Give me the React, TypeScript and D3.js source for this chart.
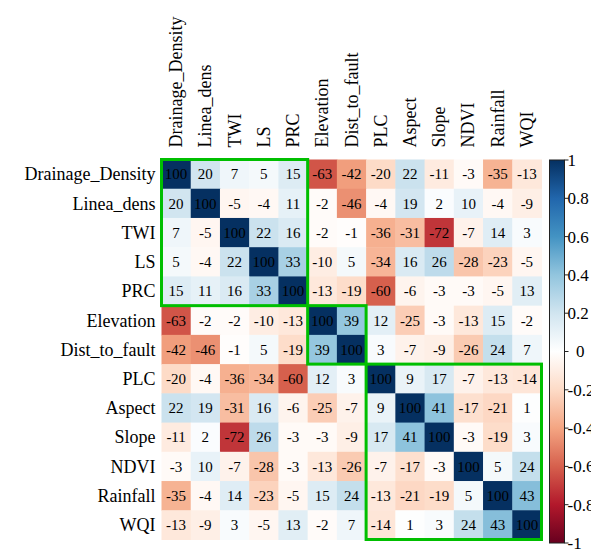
import * as React from 'react'
import * as d3 from 'd3'

const labels = ['Drainage_Density', 'Linea_dens', 'TWI', 'LS', 'PRC', 'Elevation', 'Dist_to_fault', 'PLC', 'Aspect', 'Slope', 'NDVI', 'Rainfall', 'WQI']

const rowDrainage = [100, 20, 7, 5, 15, -63, -42, -20, 22, -11, -3, -35, -13]
const rowLinea = [20, 100, -5, -4, 11, -2, -46, -4, 19, 2, 10, -4, -9]
const rowTWI = [7, -5, 100, 22, 16, -2, -1, -36, -31, -72, -7, 14, 3]
const rowLS = [5, -4, 22, 100, 33, -10, 5, -34, 16, 26, -28, -23, -5]
const rowPRC = [15, 11, 16, 33, 100, -13, -19, -60, -6, -3, -3, -5, 13]
const rowElevation = [-63, -2, -2, -10, -13, 100, 39, 12, -25, -3, -13, 15, -2]
const rowDist = [-42, -46, -1, 5, -19, 39, 100, 3, -7, -9, -26, 24, 7]
const rowPLC = [-20, -4, -36, -34, -60, 12, 3, 100, 9, 17, -7, -13, -14]
const rowAspect = [22, 19, -31, 16, -6, -25, -7, 9, 100, 41, -17, -21, 1]
const rowSlope = [-11, 2, -72, 26, -3, -3, -9, 17, 41, 100, -3, -19, 3]
const rowNDVI = [-3, 10, -7, -28, -3, -13, -26, -7, -17, -3, 100, 5, 24]
const rowRainfall = [-35, -4, 14, -23, -5, 15, 24, -13, -21, -19, 5, 100, 43]
const rowWQI = [-13, -9, 3, -5, 13, -2, 7, -14, 1, 3, 24, 43, 100]

const matrix = [rowDrainage, rowLinea, rowTWI, rowLS, rowPRC, rowElevation, rowDist, rowPLC, rowAspect, rowSlope, rowNDVI, rowRainfall, rowWQI]

// clusters as [first, last] index
const clusters = [[0, 4], [5, 6], [7, 12]]
const barTicks = [1, 0.8, 0.6, 0.4, 0.2, 0, -0.2, -0.4, -0.6, -0.8, -1]

const palette = ['#67001F', '#B2182B', '#D6604D', '#F4A582', '#FDDBC7', '#FFFFFF', '#D1E5F0', '#92C5DE', '#4393C3', '#2166AC', '#053061']

const App = () => {
  const width = 591
  const height = 549
  const left = 161.5
  const top = 159.5
  const size = 380

  const band = d3.scaleBand<number>().domain(d3.range(labels.length)).range([0, size])
  const bw = band.bandwidth()

  const color = d3.scaleLinear<string>()
    .domain(d3.range(11).map(i => -1 + i * 0.2))
    .range(palette)

  const barX = 549.5
  const barW = 15
  const barY = d3.scaleLinear().domain([1, -1]).range([160, 543])

  const txt = {fontFamily: "'Liberation Serif', 'DejaVu Serif', 'Times New Roman', serif"}

  return (
    <div style={{position: 'absolute', left: 0, top: 0}}>
      <svg width={width} height={height} style={{display: 'block', background: '#fff'}}>
        <defs>
          <linearGradient id="cbar" x1="0" y1="1" x2="0" y2="0">
            {palette.map((c, i) => (
              <stop key={i} offset={`${i * 10}%`} stopColor={c} />
            ))}
          </linearGradient>
        </defs>

        <g transform={`translate(${left},${top})`}>
          {matrix.map((row, r) =>
            row.map((v, c) => (
              <rect key={`${r}-${c}`} x={band(c)} y={band(r)} width={bw + 0.5} height={bw + 0.5}
                fill={color(v / 100)} />
            ))
          )}
          {matrix.map((row, r) =>
            row.map((v, c) => (
              <text key={`t${r}-${c}`} x={band(c)! + bw / 2} y={band(r)! + bw / 2} dy="0.35em"
                textAnchor="middle" style={txt} fontSize={15} fill="#000">{v}</text>
            ))
          )}
          {clusters.map(([a, b], i) => (
            <rect key={`cl${i}`} x={band(a)} y={band(a)} width={band(b)! + bw - band(a)!}
              height={band(b)! + bw - band(a)!} fill="none" stroke="#00BF00" strokeWidth={3} />
          ))}
          {labels.map((l, i) => (
            <text key={`r${i}`} x={-6} y={band(i)! + bw / 2} dy="0.35em" textAnchor="end"
              style={txt} fontSize={18} fill="#000">{l}</text>
          ))}
          {labels.map((l, i) => (
            <text key={`c${i}`} transform={`translate(${band(i)! + bw / 2 + 6},${-12}) rotate(-90)`}
              textAnchor="start" style={txt} fontSize={18} fill="#000">{l}</text>
          ))}
        </g>

        <rect x={barX} y={barY(1)} width={barW} height={barY(-1) - barY(1)} fill="url(#cbar)"
          stroke="#222" strokeWidth={1} />
        {barTicks.map((t, i) => (
          <g key={`bt${i}`}>
            <line x1={barX + barW} x2={barX + barW + 4} y1={barY(t)} y2={barY(t)} stroke="#222" />
            <text x={barX + barW + 3} y={barY(t)} dy="0.35em" style={txt} fontSize={17} fill="#000">
              {t === 0 ? '\u00a0\u00a00' : String(t)}
            </text>
          </g>
        ))}
      </svg>
    </div>
  )
}

export default App
